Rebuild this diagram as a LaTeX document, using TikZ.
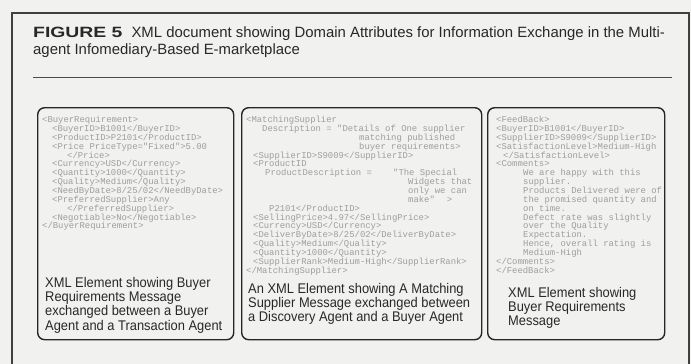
\documentclass[tikz,border=0pt]{standalone}
\usepackage{fontspec}
\setmainfont{Liberation Sans}
\newfontfamily\capfont[FakeStretch=0.92]{Liberation Sans}
\newfontfamily\figfont[FakeStretch=1.3]{Liberation Sans}
\newfontfamily\codefont{Liberation Mono}

\definecolor{paper}{RGB}{241,241,239}
\definecolor{codegray}{RGB}{158,158,158}
\definecolor{inkgray}{RGB}{40,40,40}

\tikzset{
  msgbox/.style={draw=black!85, line width=1.4pt, rounded corners=7pt, anchor=north west},
  xmlcode/.style={anchor=north west, inner sep=0pt, align=left, text=codegray,
    font=\codefont\fontsize{8.9}{8.85}\selectfont},
  boxcap/.style={anchor=north west, inner sep=0pt, align=left, text=inkgray,
    font=\capfont\fontsize{14}{14.3}\selectfont},
}
\newcommand{\ind}[1]{\hspace*{#1pt}}

\begin{document}
\begin{tikzpicture}[x=1pt,y=-1pt]
  \fill[paper] (0,0) rectangle (691,364);
  \useasboundingbox (0,0) rectangle (691,364);

  % frame and heading
  \draw[black!75, line width=1.2pt] (12,364) -- (12,13) -- (689,13) -- (689,364);
  \node[anchor=north west, inner sep=0pt, align=left, text=inkgray,
    font=\fontsize{14.9}{17}\selectfont] (title) at (33,27)
    {{\figfont\bfseries FIGURE 5}\hspace{9pt}XML document showing Domain Attributes for Information Exchange in the Multi-\\
     agent Infomediary-Based E-marketplace};
  \coordinate (ruleL) at (33,77);
  \coordinate (ruleR) at (672,77);
  \draw[black!70, line width=0.8pt] (ruleL) -- (ruleR);

  % the three message boxes
  \node[msgbox, minimum width=196pt, minimum height=232pt] (buyerbox) at (37,107) {};
  \node[msgbox, minimum width=240pt, minimum height=232pt] (matchbox) at (241,107) {};
  \node[msgbox, minimum width=177pt, minimum height=232pt] (feedbox) at (487,107) {};

  \node[xmlcode] (buyerxml) at (42,116) {%
    <BuyerRequirement>\\
    \ind{10}<BuyerID>B1001</BuyerID>\\
    \ind{10}<ProductID>P2101</ProductID>\\
    \ind{10}<Price PriceType="Fixed">5.00\\
    \ind{25}</Price>\\
    \ind{10}<Currency>USD</Currency>\\
    \ind{10}<Quantity>1000</Quantity>\\
    \ind{10}<Quality>Medium</Quality>\\
    \ind{10}<NeedByDate>8/25/02</NeedByDate>\\
    \ind{10}<PreferredSupplier>Any\\
    \ind{25}</PreferredSupplier>\\
    \ind{10}<Negotiable>No</Negotiable>\\
    </BuyerRequirement>};

  \node[xmlcode] (matchxml) at (246,116) {%
    <MatchingSupplier\\
    \makebox[91pt][l]{\ind{16}Description =}"Details of One supplier\\
    \ind{113}matching published\\
    \ind{113}buyer requirements>\\
    \ind{7}<SupplierID>S9009</SupplierID>\\
    \ind{7}<ProductID\\
    \makebox[147pt][l]{\ind{19}ProductDescription =}"The Special\\
    \ind{162}Widgets that\\
    \ind{162}only we can\\
    \ind{162}make"\hspace{12pt}>\\
    \ind{23}P2101</ProductID>\\
    \ind{7}<SellingPrice>4.97</SellingPrice>\\
    \ind{7}<Currency>USD</Currency>\\
    \ind{7}<DeliverByDate>8/25/02</DeliverByDate>\\
    \ind{7}<Quality>Medium</Quality>\\
    \ind{7}<Quantity>1000</Quantity>\\
    \ind{7}<SupplierRank>Medium-High</SupplierRank>\\
    </MatchingSupplier>};

  \node[xmlcode] (feedxml) at (496,116) {%
    <FeedBack>\\
    <BuyerID>B1001</BuyerID>\\
    <SupplierID>S9009</SupplierID>\\
    <SatisfactionLevel>Medium-High\\
    \ind{7}</SatisfactionLevel>\\
    <Comments>\\
    \ind{27}We are happy with this\\
    \ind{27}supplier.\\
    \ind{27}Products Delivered were of\\
    \ind{27}the promised quantity and\\
    \ind{27}on time.\\
    \ind{27}Defect rate was slightly\\
    \ind{27}over the Quality\\
    \ind{27}Expectation.\\
    \ind{27}Hence, overall rating is\\
    \ind{27}Medium-High\\
    </Comments>\\
    </FeedBack>};

  % captions
  \node[boxcap] (buyercap) at (45,277)
    {XML Element showing Buyer\\Requirements Message\\exchanged between a Buyer\\Agent and a Transaction Agent};
  \node[boxcap] (matchcap) at (248,283)
    {An XML Element showing A Matching\\Supplier Message exchanged between\\a Discovery Agent and a Buyer Agent};
  \node[boxcap] (feedcap) at (508,287)
    {XML Element showing\\Buyer Requirements\\Message};
\end{tikzpicture}
\end{document}
